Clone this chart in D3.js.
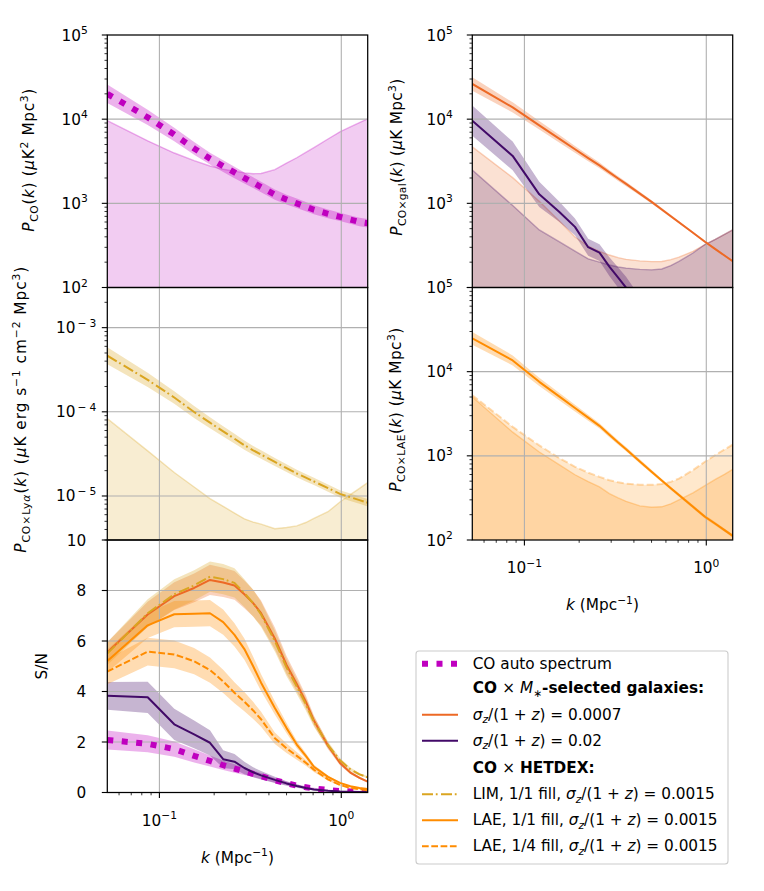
<!DOCTYPE html>
<html><head><meta charset="utf-8">
<script src="https://cdn.jsdelivr.net/npm/d3@7"></script>
<style>
body{margin:0;background:#fff}
svg{font-family:"DejaVu Sans",Verdana,sans-serif}
text{white-space:pre}
</style>
</head><body>
<svg id="c" width="764" height="891"></svg>
<script>
// ---------------- DATA ----------------
const kBins = [0.0517,0.0862,0.1207,0.1552,0.1897,0.2242,0.2587,0.2932,0.3277,0.3622,0.4312,0.5002,0.5692,0.6382,0.7072,0.8452,0.9832,1.1212,1.2592,1.3972];

// CO auto spectrum (uK^2 Mpc^3), band half-width (dex), noise
const pCO    = [20000,10500,6560,4490,3400,2770,2330,2000,1760,1560,1270,1110,1000,912,839,751,690,641,601,581];
const pCOdex = [0.11,0.09,0.08,0.075,0.07,0.07,0.068,0.066,0.064,0.062,0.06,0.058,0.056,0.055,0.054,0.052,0.05,0.05,0.05,0.05];
const nCO    = [9600,5530,3960,3210,2780,2540,2410,2300,2250,2260,2510,3010,3480,4020,4590,5810,7080,8090,9100,10100];

// CO x galaxies, sigma_z/(1+z)=0.0007 and 0.02
const pGal1    = [26200,13800,8450,5870,4390,3450,2820,2330,1970,1700,1305,1040,845,703,596,447,350,286,240,205];
const pGal1dex = [0.08,0.06,0.05,0.045,0.04,0.037,0.034,0.03,0.028,0.026,0.023,0.02,0.018,0.016,0.015,0.013,0.012,0.011,0.01,0.01];
const nGal1    = [4680,2020,1060,621,398,309,269,243,226,216,207,203,204,214,229,269,324,372,427,483];
const pGal2    = [9600,3660,1280,795,525,301,260,177,131,99.6,55,32,null,null,null,null,null,null,null,null];
const pGal2dex = [0.18,0.17,0.15,0.12,0.1,0.1,0.1,0.11,0.12,0.13,0.15,0.18,null,null,null,null,null,null,null,null];
const nGal2    = [2490,940,483,350,270,219,200,185,175,170,164,162,166,182,204,257,324,372,427,483];

// CO x Lya (LIM)
const pLya    = [4.64e-4,2.40e-4,1.48e-4,9.95e-5,7.43e-5,5.86e-5,4.79e-5,4.01e-5,3.49e-5,3.11e-5,2.54e-5,2.14e-5,1.85e-5,1.65e-5,1.49e-5,1.24e-5,1.06e-5,9.66e-6,8.93e-6,8.32e-6];
const pLyaDex = [0.1,0.085,0.075,0.07,0.065,0.06,0.058,0.055,0.052,0.05,0.048,0.046,0.045,0.044,0.044,0.044,0.044,0.044,0.044,0.044];
const nLya    = [8.3e-5,3.44e-5,1.9e-5,1.28e-5,9.3e-6,7.53e-6,6.27e-6,5.35e-6,4.9e-6,4.63e-6,4.08e-6,4.23e-6,4.41e-6,4.84e-6,5.41e-6,6.5e-6,8.5e-6,1.04e-5,1.23e-5,1.44e-5];

// CO x LAE
const pLAE    = [24900,13600,7570,5080,3700,2840,2270,1780,1440,1200,859,648,508,411,342,248,189,156,131,112];
const pLAEdex = [0.075,0.06,0.05,0.045,0.04,0.035,0.032,0.03,0.028,0.026,0.024,0.022,0.02,0.02,0.02,0.02,0.02,0.02,0.02,0.02];
const nLAE1   = [5010,1910,1110,785,596,495,427,355,316,288,254,245,248,269,299,363,442,525,603,689];
const nLAE4   = [5250,2210,1330,942,741,631,562,513,484,468,454,452,462,490,537,676,851,1023,1189,1358];

// S/N per bin, with half-width of band
const snCO      = [2.08,1.93,1.72,1.45,1.25,1.08,0.95,0.84,0.74,0.65,0.48,0.37,0.27,0.21,0.16,0.1,0.06,0.04,0.03,0.02];
const snCOerr   = [0.38,0.34,0.3,0.26,0.22,0.19,0.17,0.15,0.13,0.12,0.09,0.07,0.05,0.04,0.03,0.02,0.01,0.01,0.01,0.01];
const snGal1    = [5.55,7.05,7.78,8.1,8.42,8.32,8.2,7.85,7.5,7.1,6.1,5.05,4.3,3.6,2.85,1.85,1.17,0.79,0.58,0.43];
const snGal1err = [0.4,0.5,0.55,0.57,0.6,0.58,0.57,0.55,0.53,0.5,0.43,0.36,0.3,0.25,0.2,0.14,0.09,0.06,0.05,0.04];
const snGal2    = [3.83,3.77,2.70,2.3,1.97,1.32,1.22,0.97,0.8,0.68,0.5,0.36,0.26,0.18,0.12,0.07,0.04,0.03,0.02,0.02];
const snGal2err = [0.55,0.62,0.62,0.55,0.5,0.35,0.3,0.25,0.2,0.17,0.12,0.09,0.07,0.05,0.04,0.02,0.01,0.01,0.01,0.01];
const snLIM     = [5.5,7.1,7.85,8.2,8.55,8.45,8.3,7.9,7.5,7.05,6.0,4.95,4.2,3.5,2.8,1.88,1.28,0.92,0.72,0.6];
const snLIMerr  = [0.45,0.55,0.6,0.6,0.6,0.6,0.58,0.55,0.53,0.5,0.42,0.35,0.3,0.25,0.2,0.14,0.09,0.07,0.05,0.04];
const snLAE1    = [5.21,6.62,7.06,7.08,7.1,6.75,6.24,5.68,5.0,4.35,3.35,2.55,1.9,1.45,1.02,0.62,0.38,0.25,0.18,0.14];
const snLAE1err = [0.45,0.5,0.52,0.52,0.52,0.5,0.46,0.42,0.38,0.33,0.26,0.2,0.15,0.11,0.08,0.05,0.03,0.02,0.015,0.01];
const snLAE4    = [4.79,5.58,5.47,5.2,4.85,4.4,3.95,3.6,3.25,2.9,2.15,1.75,1.45,1.18,0.9,0.52,0.3,0.18,0.13,0.09];
const snLAE4err = [0.5,0.55,0.55,0.52,0.5,0.46,0.42,0.38,0.34,0.3,0.23,0.19,0.15,0.12,0.09,0.05,0.03,0.02,0.015,0.01];

const xMajor = [0.1, 1];
const snTicks = [0, 2, 4, 6, 8, 10];

// ---------------- STYLE ----------------
const C = {co:'#bf00bf', g1:'#ed6925', g2:'#420a68', lim:'#daa520', lae:'#ff8c00'};
const FS = 15.3;
const svg = d3.select('#c');
let clipN = 0;

function rich(text, parts, size) {
  let cur = 0;
  for (const p of parts) {
    let off = 0, fs = size;
    if (p.sup) { off = -0.42*size; fs = 0.7*size; }
    else if (p.sub) { off = 0.24*size; fs = 0.7*size; }
    const ts = text.append('tspan').text(p.t).attr('font-size', fs);
    if (off - cur !== 0) ts.attr('dy', off - cur);
    if (p.dx) ts.attr('dx', p.dx);
    cur = off;
    if (p.i) ts.attr('font-style','italic');
    if (p.b) ts.attr('font-weight','bold');
  }
  return text;
}

function panel(xs, ys) {
  const [x0,x1] = xs.range(); const [yb,yt] = ys.range();
  const id = 'clip' + (++clipN);
  svg.append('clipPath').attr('id',id).append('rect')
    .attr('x',x0).attr('y',yt).attr('width',x1-x0).attr('height',yb-yt);
  const g = svg.append('g');
  const fill = g.append('g').attr('clip-path',`url(#${id})`);
  const grid = g.append('g');
  const lines = g.append('g').attr('clip-path',`url(#${id})`);
  const axes = g.append('g');
  return {xs,ys,fill,grid,lines,axes,x0,x1,yb,yt};
}

function pts(vals, extra) {
  return kBins.map((k,i)=>({k, v:vals[i], e: extra ? extra[i] : 0})).filter(p=>p.v!=null);
}

function noiseFill(P, vals, color, dash) {
  const d = pts(vals);
  const area = d3.area().x(p=>P.xs(p.k)).y0(P.yb).y1(p=>P.ys(p.v));
  P.fill.append('path').attr('d', area(d)).attr('fill', color).attr('fill-opacity', 0.2);
  P.fill.append('path').attr('d', d3.line().x(p=>P.xs(p.k)).y(p=>P.ys(p.v))(d))
    .attr('fill','none').attr('stroke',color).attr('stroke-opacity',0.3)
    .attr('stroke-width', dash ? 2 : 1.4).attr('stroke-dasharray', dash || null);
}
function bandLog(P, vals, dex, color) {
  const d = pts(vals, dex);
  const area = d3.area().x(p=>P.xs(p.k))
    .y0(p=>P.ys(p.v/Math.pow(10,p.e))).y1(p=>P.ys(p.v*Math.pow(10,p.e)));
  P.fill.append('path').attr('d', area(d)).attr('fill', color).attr('fill-opacity', 0.3);
}
function bandLin(P, vals, err, color) {
  const d = pts(vals, err);
  const area = d3.area().x(p=>P.xs(p.k))
    .y0(p=>P.ys(Math.max(0,p.v-p.e))).y1(p=>P.ys(p.v+p.e));
  P.fill.append('path').attr('d', area(d)).attr('fill', color).attr('fill-opacity', 0.3);
}
const STY = {
  dot:{w:6, dash:'6,8.5'},
  solid:{w:2, dash:null},
  dashdot:{w:2, dash:'11,2.8,1.8,3.4'},
  dashed:{w:2, dash:'6.7,2.6'}
};
function curve(P, vals, color, sty) {
  const d = pts(vals);
  P.lines.append('path').attr('d', d3.line().x(p=>P.xs(p.k)).y(p=>P.ys(p.v))(d))
    .attr('fill','none').attr('stroke',color).attr('stroke-width',STY[sty].w)
    .attr('stroke-dasharray',STY[sty].dash).attr('stroke-linejoin','round');
}

function logTicks(domain) {
  const [a,b] = domain; const major=[], minor=[];
  for (let e=Math.floor(Math.log10(a)); e<=Math.ceil(Math.log10(b)); e++) {
    for (let m=1; m<10; m++) {
      const v = m*Math.pow(10,e);
      if (v < a*0.9999 || v > b*1.0001) continue;
      (m===1 ? major : minor).push(v);
    }
  }
  return {major, minor};
}
const expNum = v => Math.round(Math.log10(v));
function expParts(v, wide) {
  const e = expNum(v);
  if (e >= 0) return [{t:'10'},{t:String(e),sup:1}];
  if (wide) return [{t:'10'},{t:'−',sup:1,dx:2},{t:String(-e),sup:1,dx:3}];
  return [{t:'10'},{t:'−'+(-e),sup:1}];
}

function axesDecor(P, o) {
  xMajor.forEach(v => P.grid.append('line').attr('x1',P.xs(v)).attr('x2',P.xs(v)).attr('y1',P.yt).attr('y2',P.yb)
    .attr('stroke','#b0b0b0').attr('stroke-width',1.1));
  let yMaj, yMin=[];
  if (o.lin) { yMaj = o.lin; } else { const t = logTicks(P.ys.domain()); yMaj = t.major; yMin = t.minor; }
  yMaj.forEach(v => {
    const y = P.ys(v);
    if (Math.abs(y-P.yt)>1 && Math.abs(y-P.yb)>1)
      P.grid.append('line').attr('x1',P.x0).attr('x2',P.x1).attr('y1',y).attr('y2',y)
        .attr('stroke','#b0b0b0').attr('stroke-width',1.1);
    P.axes.append('line').attr('x1',P.x0-5.5).attr('x2',P.x0).attr('y1',y).attr('y2',y).attr('stroke','#000').attr('stroke-width',1.1);
    if (o.skip && o.skip.includes(v)) return;
    const t = P.axes.append('text').attr('x',P.x0-o.lpad).attr('y',y+5.5).attr('text-anchor','end');
    if (o.lin) rich(t,[{t:String(v)}],FS); else rich(t,expParts(v,o.wide),FS);
  });
  yMin.forEach(v => {
    const y = P.ys(v);
    P.axes.append('line').attr('x1',P.x0-2.8).attr('x2',P.x0).attr('y1',y).attr('y2',y).attr('stroke','#000').attr('stroke-width',0.8);
  });
  if (o.xticks) {
    const t = logTicks(P.xs.domain());
    t.major.forEach(v => {
      const x = P.xs(v);
      P.axes.append('line').attr('x1',x).attr('x2',x).attr('y1',P.yb).attr('y2',P.yb+5.5).attr('stroke','#000').attr('stroke-width',1.1);
      const tx = P.axes.append('text').attr('x',x).attr('y',P.yb+33).attr('text-anchor','middle');
      rich(tx,expParts(v,false),FS);
    });
    t.minor.forEach(v => {
      const x = P.xs(v);
      P.axes.append('line').attr('x1',x).attr('x2',x).attr('y1',P.yb).attr('y2',P.yb+2.8).attr('stroke','#000').attr('stroke-width',0.8);
    });
    const xl = P.axes.append('text').attr('x',(P.x0+P.x1)/2).attr('y',P.yb+70).attr('text-anchor','middle');
    rich(xl,[{t:'k',i:1},{t:' (Mpc'},{t:'−1',sup:1},{t:')'}],FS);
  }
  P.axes.append('rect').attr('x',P.x0).attr('y',P.yt).attr('width',P.x1-P.x0).attr('height',P.yb-P.yt)
    .attr('fill','none').attr('stroke','#000').attr('stroke-width',1.25);
  const yc = (P.yt+P.yb)/2 - (o.lshift||0);
  const yl = P.axes.append('text').attr('transform',`translate(${o.labx},${yc}) rotate(-90)`).attr('text-anchor','middle');
  rich(yl, o.label, FS);
  if (o.stretch) {
    const L = yl.node().getComputedTextLength();
    yl.attr('textLength', L*o.stretch).attr('lengthAdjust','spacing');
  }
}

// ---------------- LAYOUT ----------------
const LX=[107.3,367.7], RX=[472.3,732.7];
const R=[35,287.5,540,792.5];
const kDom=[kBins[0], kBins[kBins.length-1]];
const xL = d3.scaleLog().domain(kDom).range(LX);
const xR = d3.scaleLog().domain(kDom).range(RX);

// Top-left: CO auto
const TL = panel(xL, d3.scaleLog().domain([1e2,1e5]).range([R[1],R[0]]));
noiseFill(TL, nCO, C.co);
bandLog(TL, pCO, pCOdex, C.co);
curve(TL, pCO, C.co, 'dot');
axesDecor(TL, {lpad:19.5, labx:34, stretch:1.08, lshift:1, label:[{t:'P',i:1},{t:'CO',sub:1},{t:'('},{t:'k',i:1},{t:') ('},{t:'μ',i:1},{t:'K'},{t:'2',sup:1},{t:' Mpc'},{t:'3',sup:1},{t:')'}]});

// Middle-left: CO x Lya
const ML = panel(xL, d3.scaleLog().domain([3e-6,3e-3]).range([R[2],R[1]]));
noiseFill(ML, nLya, C.lim);
bandLog(ML, pLya, pLyaDex, C.lim);
curve(ML, pLya, C.lim, 'dashdot');
axesDecor(ML, {lpad:11, labx:26, wide:true, stretch:1.12, lshift:4, label:[{t:'P',i:1},{t:'CO×Ly',sub:1},{t:'α',sub:1,i:1},{t:'('},{t:'k',i:1},{t:') ('},{t:'μ',i:1},{t:'K erg s'},{t:'−1',sup:1},{t:' cm'},{t:'−2',sup:1},{t:' Mpc'},{t:'3',sup:1},{t:')'}]});

// Bottom-left: S/N
const BL = panel(xL, d3.scaleLinear().domain([0,10]).range([R[3],R[2]]));
bandLin(BL, snCO, snCOerr, C.co);
bandLin(BL, snGal1, snGal1err, C.g1);
bandLin(BL, snGal2, snGal2err, C.g2);
bandLin(BL, snLIM, snLIMerr, C.lim);
bandLin(BL, snLAE1, snLAE1err, C.lae);
bandLin(BL, snLAE4, snLAE4err, C.lae);
curve(BL, snCO, C.co, 'dot');
curve(BL, snGal1, C.g1, 'solid');
curve(BL, snGal2, C.g2, 'solid');
curve(BL, snLIM, C.lim, 'dashdot');
curve(BL, snLAE1, C.lae, 'solid');
curve(BL, snLAE4, C.lae, 'dashed');
axesDecor(BL, {lin:snTicks, lpad:21, labx:46.5, xticks:true, label:[{t:'S/N'}]});

// Top-right: CO x galaxies
const TR = panel(xR, d3.scaleLog().domain([1e2,1e5]).range([R[1],R[0]]));
noiseFill(TR, nGal1, C.g1);
noiseFill(TR, nGal2, C.g2);
bandLog(TR, pGal1, pGal1dex, C.g1);
bandLog(TR, pGal2, pGal2dex, C.g2);
curve(TR, pGal1, C.g1, 'solid');
curve(TR, pGal2, C.g2, 'solid');
axesDecor(TR, {lpad:19.5, labx:402, skip:[1e2], stretch:1.04, lshift:4, label:[{t:'P',i:1},{t:'CO×gal',sub:1},{t:'('},{t:'k',i:1},{t:') ('},{t:'μ',i:1},{t:'K Mpc'},{t:'3',sup:1},{t:')'}]});

// Middle-right: CO x LAE
const MR = panel(xR, d3.scaleLog().domain([1e2,1e5]).range([R[2],R[1]]));
noiseFill(MR, nLAE4, C.lae, '7,3');
noiseFill(MR, nLAE1, C.lae);
bandLog(MR, pLAE, pLAEdex, C.lae);
curve(MR, pLAE, C.lae, 'solid');
axesDecor(MR, {lpad:19.5, labx:401, xticks:true, stretch:1.06, lshift:4, label:[{t:'P',i:1},{t:'CO×LAE',sub:1},{t:'('},{t:'k',i:1},{t:') ('},{t:'μ',i:1},{t:'K Mpc'},{t:'3',sup:1},{t:')'}]});

// ---------------- LEGEND ----------------
const lg = svg.append('g');
lg.append('rect').attr('x',416).attr('y',651).attr('width',312).attr('height',213).attr('rx',3)
  .attr('fill','#fff').attr('fill-opacity',0.8).attr('stroke','#cccccc').attr('stroke-width',1.1);
const sig = v => [{t:'σ',i:1},{t:'z',i:1,sub:1},{t:'/(1 + '},{t:'z',i:1},{t:') = '+v}];
const legendRows = [
  {y:668.5, color:C.co, sty:'dot', parts:[{t:'CO auto spectrum'}]},
  {y:693, parts:[{t:'CO ',b:1},{t:'× '},{t:'M',i:1},{t:'∗',sub:1},{t:'-selected galaxies:',b:1}]},
  {y:719.5, color:C.g1, sty:'solid', parts:sig('0.0007')},
  {y:745.5, color:C.g2, sty:'solid', parts:sig('0.02')},
  {y:773, parts:[{t:'CO ',b:1},{t:'× '},{t:'HETDEX:',b:1}]},
  {y:799, color:C.lim, sty:'dashdot', parts:[{t:'LIM, 1/1 fill, '}].concat(sig('0.0015'))},
  {y:825, color:C.lae, sty:'solid', parts:[{t:'LAE, 1/1 fill, '}].concat(sig('0.0015'))},
  {y:851, color:C.lae, sty:'dashed', parts:[{t:'LAE, 1/4 fill, '}].concat(sig('0.0015'))}
];
legendRows.forEach(r => {
  if (r.color) {
    lg.append('line').attr('x1',422).attr('x2',458).attr('y1',r.y-4.7).attr('y2',r.y-4.7)
      .attr('stroke',r.color).attr('stroke-width',STY[r.sty].w).attr('stroke-dasharray',STY[r.sty].dash);
  }
  rich(lg.append('text').attr('x',472.7).attr('y',r.y), r.parts, FS);
});
</script>
</body></html>
